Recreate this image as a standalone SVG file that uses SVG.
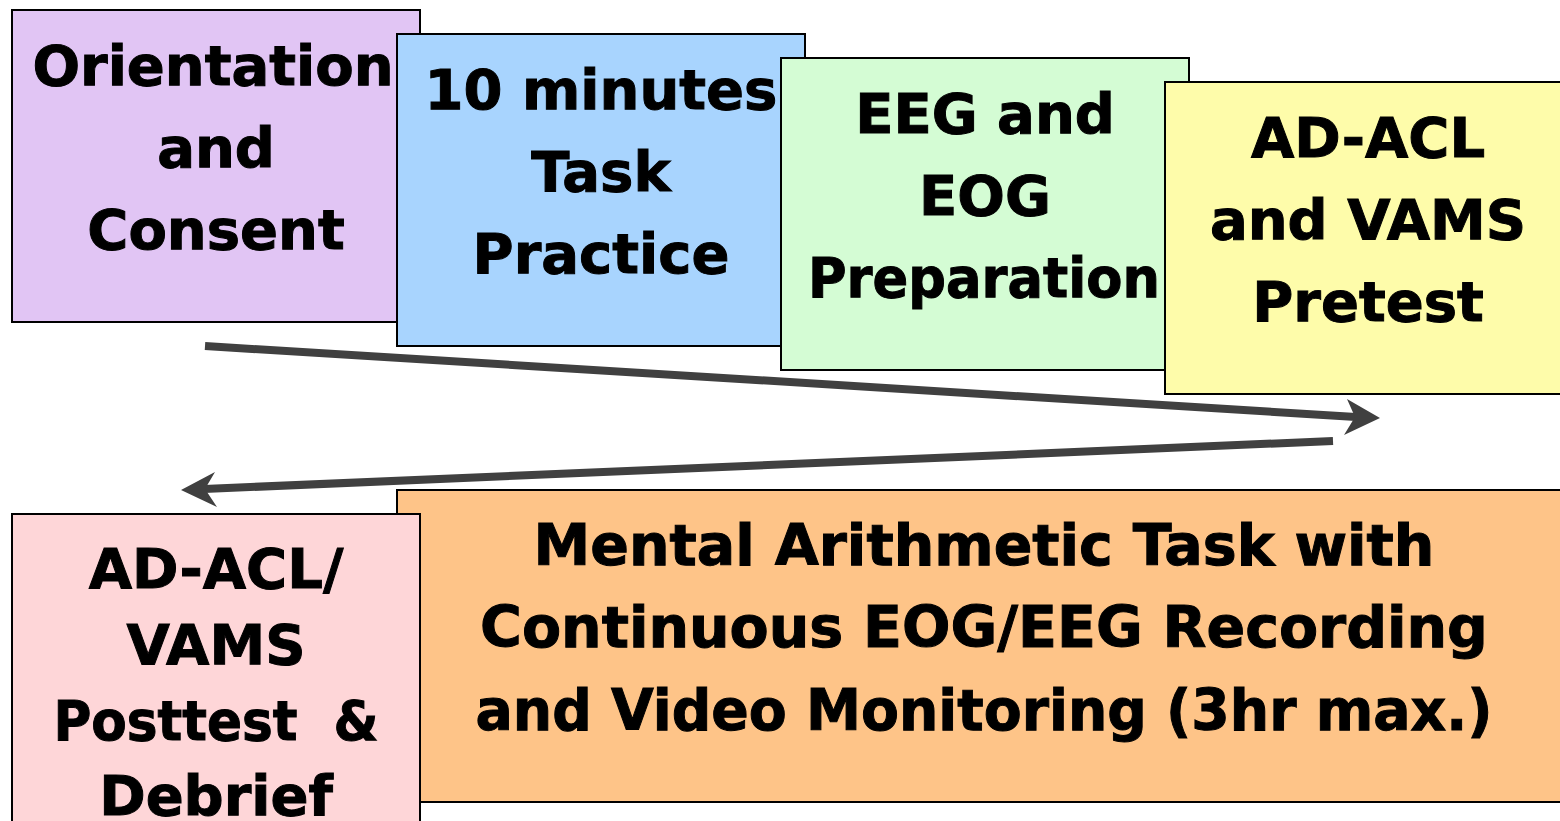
<svg xmlns="http://www.w3.org/2000/svg" width="1560" height="821" viewBox="0 0 1560 821">
<style>
.box{stroke:#000;stroke-width:2}
.t{font-family:"DejaVu Sans",Verdana,sans-serif;font-weight:bold;font-size:56px;fill:#000;stroke:#000;stroke-width:1;text-anchor:middle}
.big{font-size:57px}
.conn{stroke:#404040;stroke-width:8;fill:none}
.head{fill:#404040}
</style>
<rect width="1560" height="821" fill="#fff"/>
<g id="n1"><rect class="box" x="12" y="10" width="408" height="312" fill="#e1c5f4"/>
<text class="t" x="213" y="85">Orientation</text><text class="t" x="216" y="167">and</text><text class="t" x="216" y="249">Consent</text></g>
<g id="n2"><rect class="box" x="397" y="34" width="408" height="312" fill="#a8d4fe"/>
<text class="t" x="601" y="109">10 minutes</text><text class="t" x="601" y="191">Task</text><text class="t" x="601" y="273">Practice</text></g>
<g id="n3"><rect class="box" x="781" y="58" width="408" height="312" fill="#d4fcd4"/>
<text class="t" x="985" y="133">EEG and</text><text class="t" x="985" y="215">EOG</text><text class="t" x="984" y="297" textLength="352" lengthAdjust="spacingAndGlyphs">Preparation</text></g>
<g id="n4"><rect class="box" x="1165" y="82" width="408" height="312" fill="#fefcaa"/>
<text class="t" x="1368" y="157">AD-ACL</text><text class="t" x="1368" y="239">and VAMS</text><text class="t" x="1368" y="321">Pretest</text></g>
<g id="n5"><rect class="box" x="397" y="490" width="1176" height="312" fill="#fec488"/>
<text class="t big" x="984" y="565">Mental Arithmetic Task with</text><text class="t big" x="984" y="647">Continuous EOG/EEG Recording</text><text class="t big" x="984" y="730" textLength="1017" lengthAdjust="spacingAndGlyphs">and Video Monitoring (3hr max.)</text></g>
<g id="n6"><rect class="box" x="12" y="514" width="408" height="320" fill="#fed6d8"/>
<text class="t" x="216" y="588">AD-ACL/</text><text class="t" x="216" y="664">VAMS</text><text class="t" x="216" y="740" xml:space="preserve" textLength="325" lengthAdjust="spacingAndGlyphs">Posttest  &amp;</text><text class="t" x="216" y="815">Debrief</text></g>
<g id="connectors">
<line class="conn" x1="205" y1="346" x2="1356" y2="417"/>
<path class="head" d="M1380,418 L1347,399 L1355,417 L1344,435 Z"/>
<line class="conn" x1="1333" y1="441" x2="204" y2="489"/>
<path class="head" d="M181,490 L215,472 L205,489 L217,507 Z"/>
</g>
</svg>
